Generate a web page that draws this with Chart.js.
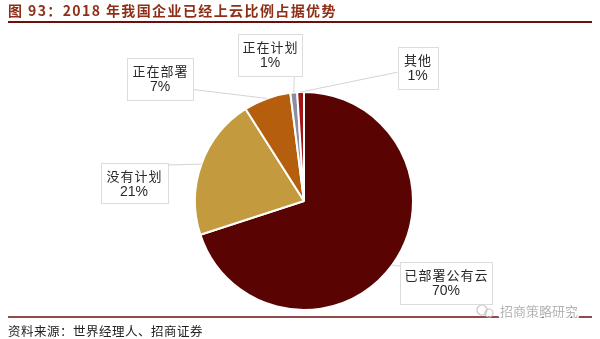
<!DOCTYPE html>
<html>
<head>
<meta charset="utf-8">
<script src="https://cdn.jsdelivr.net/npm/chart.js@4"></script>
<style>
  html, body { margin: 0; padding: 0; background: #fff; }
  #wrap { width: 600px; height: 339px; position: relative; }
</style>
</head>
<body>
<div id="wrap"><canvas id="c" width="600" height="339"></canvas></div>
<script>
// Share of Chinese enterprises by cloud adoption status, 2018 (%)
const categories = ['已部署公有云', '没有计划', '正在部署', '正在计划', '其他'];
const shares = [70, 21, 7, 1, 1];
const valueLabels = ['70%', '21%', '7%', '1%', '1%'];

const titleText = '图 93：2018 年我国企业已经上云比例占据优势';
const sourceText = '资料来源：世界经理人、招商证券';
const brandText = '招商策略研究';

const sliceColors = ['#5a0303', '#c49a3e', '#b55e0e', '#8a8e9e', '#a31515'];

// Callout boxes: centre offset from the pie centre, box size, and where the leader leaves the box
const callouts = [
  { dx: 142,   dy: 82,   w: 92, h: 42, side: 'left',   at: 0.1 },
  { dx: -170,  dy: -18,  w: 67, h: 40, side: 'right',  at: 0.05 },
  { dx: -144,  dy: -122, w: 66, h: 42, side: 'right',  at: 0.75 },
  { dx: -34,   dy: -146, w: 64, h: 42, side: 'bottom', at: 0.88 },
  { dx: 113.5, dy: -133, w: 40, h: 42, side: 'left',   at: 0.6 }
];

const cjk = '"Noto Sans CJK SC", "Noto Sans", sans-serif';
const latin = '"Liberation Sans", Arial, sans-serif';

const decorations = {
  id: 'decorations',
  afterDraw(chart) {
    const ctx = chart.ctx;
    const meta = chart.getDatasetMeta(0);
    ctx.save();

    // heading and rule
    ctx.fillStyle = '#8f2f17';
    ctx.font = 'bold 14px ' + cjk;
    ctx.letterSpacing = '1.4px';
    ctx.textAlign = 'left';
    ctx.textBaseline = 'middle';
    ctx.fillText(titleText, 8, 11);
    ctx.letterSpacing = '0px';
    ctx.strokeStyle = '#6e0f0f';
    ctx.lineWidth = 2;
    ctx.beginPath(); ctx.moveTo(8, 22); ctx.lineTo(592, 22); ctx.stroke();

    // callouts
    meta.data.forEach((arc, i) => {
      const p = arc.getProps(['x', 'y', 'startAngle', 'endAngle', 'outerRadius'], true);
      const mid = (p.startAngle + p.endAngle) / 2;
      const tx = p.x + Math.cos(mid) * p.outerRadius;
      const ty = p.y + Math.sin(mid) * p.outerRadius;
      const c = callouts[i];
      const left = p.x + c.dx - c.w / 2;
      const top = p.y + c.dy - c.h / 2;
      let sx, sy;
      if (c.side === 'left') { sx = left; sy = top + c.h * c.at; }
      else if (c.side === 'right') { sx = left + c.w; sy = top + c.h * c.at; }
      else { sx = left + c.w * c.at; sy = top + c.h; }

      ctx.strokeStyle = '#d3d3d3';
      ctx.lineWidth = 1;
      ctx.beginPath(); ctx.moveTo(sx, sy); ctx.lineTo(tx, ty); ctx.stroke();

      ctx.fillStyle = '#ffffff';
      ctx.fillRect(left, top, c.w, c.h);
      ctx.strokeStyle = '#dcdcdc';
      ctx.strokeRect(Math.round(left) + 0.5, Math.round(top) + 0.5, c.w, c.h);

      ctx.fillStyle = '#2a2a2a';
      ctx.textAlign = 'center';
      ctx.textBaseline = 'middle';
      ctx.font = '13px ' + cjk;
      ctx.letterSpacing = '1px';
      ctx.fillText(categories[i], left + c.w / 2 + 0.5, top + 13);
      ctx.letterSpacing = '0px';
      ctx.font = '14px ' + latin;
      ctx.fillText(valueLabels[i], left + c.w / 2, top + 29);
    });

    // footer rule and source
    ctx.strokeStyle = '#6e0f0f';
    ctx.lineWidth = 1.5;
    ctx.beginPath(); ctx.moveTo(8, 317); ctx.lineTo(592, 317); ctx.stroke();
    ctx.fillStyle = '#222';
    ctx.font = '12.5px ' + cjk;
    ctx.letterSpacing = '0.5px';
    ctx.textAlign = 'left';
    ctx.textBaseline = 'middle';
    ctx.fillText(sourceText, 8, 331);
    ctx.letterSpacing = '0px';

    // brand mark
    ctx.strokeStyle = '#c8c8c8';
    ctx.lineWidth = 1.2;
    ctx.beginPath(); ctx.arc(482, 310, 5, 0, Math.PI * 2); ctx.stroke();
    ctx.beginPath(); ctx.arc(489, 313, 4, 0, Math.PI * 2); ctx.stroke();
    ctx.font = '13px ' + cjk;
    ctx.lineWidth = 3;
    ctx.strokeStyle = '#ffffff';
    ctx.strokeText(brandText, 500, 311);
    ctx.fillStyle = '#b5b5b5';
    ctx.fillText(brandText, 500, 311);

    ctx.restore();
  }
};

new Chart(document.getElementById('c'), {
  type: 'pie',
  data: {
    labels: categories,
    datasets: [{
      data: shares,
      backgroundColor: sliceColors,
      borderColor: '#ffffff',
      borderWidth: 2
    }]
  },
  options: {
    responsive: false,
    animation: false,
    layout: { padding: { left: 194, right: 186, top: 91, bottom: 28 } },
    plugins: { legend: { display: false }, tooltip: { enabled: false } }
  },
  plugins: [decorations]
});
</script>
</body>
</html>
